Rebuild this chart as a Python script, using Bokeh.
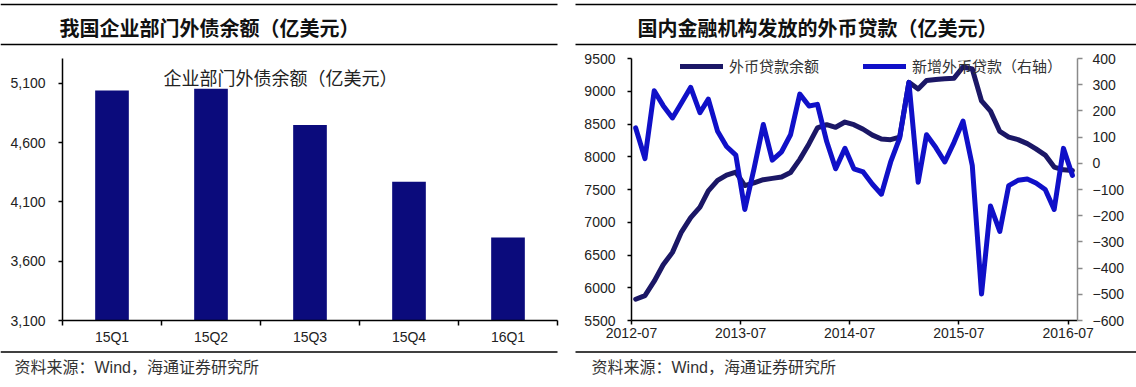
import pandas as pd
from bokeh.plotting import figure
from bokeh.models import (Range1d, LinearAxis, FixedTicker, Label, Legend, LegendItem,
                          BoxAnnotation, NumeralTickFormatter, DatetimeTickFormatter)
from bokeh.layouts import row
from bokeh.embed import file_html
from bokeh.resources import INLINE

# ---------------- data ----------------
left_title = "我国企业部门外债余额（亿美元）"
left_inner_title = "企业部门外债余额（亿美元）"
quarters = ["15Q1", "15Q2", "15Q3", "15Q4", "16Q1"]
external_debt = [5040, 5055, 4750, 4270, 3800]
left_y_ticks = [3100, 3600, 4100, 4600, 5100]

right_title = "国内金融机构发放的外币贷款（亿美元）"
month_start = "2012-07"
month_end = "2016-07"
fx_loan_balance = [5825, 5880, 6100, 6350, 6540, 6850, 7070, 7230, 7480, 7640,
                   7720, 7766, 7560, 7600, 7650, 7670, 7690, 7760, 7960, 8200,
                   8440, 8490, 8450, 8530, 8490, 8420, 8330, 8270, 8260, 8300,
                   9136, 9034, 9163, 9180, 9190, 9200, 9370, 9340, 8852, 8697,
                   8386, 8300, 8262, 8200, 8120, 8025, 7843, 7800, 7790]
fx_loan_new = [135, 18, 277, 220, 173, 230, 290, 193, 245, 122,
               64, 31, -176, -20, 148, 12, 44, 109, 264, 219,
               225, 83, -21, 57, -21, -33, -80, -118, 5, 96,
               309, -72, 109, 60, 5, 80, 161, -8, -499, -163,
               -260, -85, -65, -60, -75, -100, -176, 57, -46]
right_x_tick_labels = ["2012-07", "2013-07", "2014-07", "2015-07", "2016-07"]
balance_ticks = [5500, 6000, 6500, 7000, 7500, 8000, 8500, 9000, 9500]
new_loan_ticks = [-600, -500, -400, -300, -200, -100, 0, 100, 200, 300, 400]
series_names = ["外币贷款余额", "新增外币贷款（右轴）"]
source_note = "资料来源：Wind，海通证券研究所"

# ---------------- styles / geometry (page pixels) ----------------
CJK = "Noto Sans CJK SC"
LAT = "Liberation Sans"
MIX = "Liberation Sans, Noto Sans CJK SC"
BAR_COLOR = "#0b0b7c"
DARK = "#1b1766"
BLUE = "#1010c8"
TXT = "#222222"

LW, RW = 570, 566
HEAD_H, CHART_H, FOOT_H = 46, 304, 35
CHART_TOP = HEAD_H                       # page y where chart figures begin
FOOT_TOP = CHART_TOP + CHART_H
FRAME_TOP, AXIS_TOP, FRAME_BOTTOM = 48, 58, 320
L_LEFT, L_RIGHT = 62, 557
R_LEFT, R_RIGHT = 631, 1077


def extended(lo, hi):
    # value range for the frame when the axis spans AXIS_TOP..FRAME_BOTTOM
    per_px = (hi - lo) / (FRAME_BOTTOM - AXIS_TOP)
    return lo, hi + (AXIS_TOP - FRAME_TOP) * per_px


def band_figure(width, height):
    p = figure(width=width, height=height,
               x_range=Range1d(0, width), y_range=Range1d(height, 0),
               min_border=0, min_border_left=0, min_border_right=0,
               min_border_top=0, min_border_bottom=0,
               x_axis_type=None, y_axis_type=None,
               output_backend="svg", toolbar_location=None)
    p.outline_line_color = None
    p.background_fill_color = "white"
    p.border_fill_color = "white"
    return p


def rule(p, x0, x1, y):
    p.add_layout(BoxAnnotation(left=x0, right=x1, top=y - 0.8, bottom=y + 0.8,
                               fill_color="black", fill_alpha=1.0, line_color=None))


def header(width, x0, x1, title, tx):
    p = band_figure(width, HEAD_H)
    rule(p, x0, x1, 4)
    rule(p, x0, x1, 44)
    p.add_layout(Label(x=tx, y=27, text=title, text_font=CJK, text_font_size="20px",
                       text_font_style="bold", text_color="#111111", text_baseline="middle"))
    return p


def footer(width, x0, x1, tx):
    p = band_figure(width, FOOT_H)
    rule(p, x0, x1, 351.5 - FOOT_TOP)
    p.add_layout(Label(x=tx, y=367 - FOOT_TOP, text=source_note, text_font=MIX,
                       text_font_size="16px", text_color="#333333", text_baseline="middle"))
    return p


def style_axis(ax, color="black"):
    ax.axis_line_color = color
    ax.axis_line_width = 1.5
    ax.major_tick_line_color = color
    ax.major_tick_line_width = 1.5
    ax.minor_tick_line_color = color
    ax.major_label_text_font = LAT
    ax.major_label_text_font_size = "14px"
    ax.major_label_text_color = TXT


def chart_figure(width, frame_l, frame_r, page_x0, y_rng, **kw):
    return figure(width=width, height=CHART_H, y_range=Range1d(*y_rng),
                  min_border=0, min_border_left=frame_l - page_x0,
                  min_border_right=page_x0 + width - frame_r,
                  min_border_top=FRAME_TOP - CHART_TOP,
                  min_border_bottom=FOOT_TOP - FRAME_BOTTOM,
                  output_backend="svg", toolbar_location=None, **kw)


# ---------------- left chart ----------------
L_Y = (left_y_ticks[0], 5310)
L_Y_EXT = extended(*L_Y)
pl = chart_figure(LW, L_LEFT, L_RIGHT, 0, L_Y_EXT, x_range=Range1d(0, len(quarters)))
pl.outline_line_color = None
pl.grid.visible = False

bar_x = [i + 0.5 for i in range(len(quarters))]
pl.vbar(x=bar_x, top=external_debt, bottom=L_Y[0], width=0.34, fill_color=BAR_COLOR, line_color=None)

xa = pl.xaxis[0]
xa.ticker = FixedTicker(ticks=bar_x, minor_ticks=list(range(len(quarters) + 1)))
xa.major_label_overrides = {x: q for x, q in zip(bar_x, quarters)}
style_axis(xa)
xa.major_tick_line_color = None
xa.major_tick_in = 0
xa.major_tick_out = 5
xa.minor_tick_in = 0
xa.minor_tick_out = 5
xa.minor_tick_line_width = 1.5
xa.major_label_standoff = 3

ya = pl.yaxis[0]
ya.ticker = FixedTicker(ticks=left_y_ticks)
ya.formatter = NumeralTickFormatter(format="0,0")
ya.bounds = L_Y
style_axis(ya)
ya.major_tick_in = 0
ya.major_tick_out = 4
ya.major_label_standoff = 13

l_per_px = (L_Y_EXT[1] - L_Y_EXT[0]) / (FRAME_BOTTOM - FRAME_TOP)
pl.add_layout(Label(x=(163 - L_LEFT) * len(quarters) / (L_RIGHT - L_LEFT),
                    y=L_Y_EXT[0] + (FRAME_BOTTOM - 76) * l_per_px,
                    text=left_inner_title, text_font=CJK,
                    text_font_size="18px", text_color=TXT, text_baseline="middle"))

# ---------------- right chart ----------------
dates = pd.date_range(month_start, month_end, freq="MS") + pd.Timedelta(days=14)
tick_dates = pd.to_datetime(right_x_tick_labels)

R_Y = (balance_ticks[0], balance_ticks[-1])
R_Y2 = (new_loan_ticks[0], new_loan_ticks[-1])
pr = chart_figure(RW, R_LEFT, R_RIGHT, LW, extended(*R_Y), x_axis_type="datetime",
                  x_range=Range1d(pd.Timestamp("2012-07-01"), pd.Timestamp("2016-08-01")))
pr.outline_line_color = None
pr.grid.visible = False
pr.extra_y_ranges = {"new": Range1d(*extended(*R_Y2))}

r_bal = pr.line(dates, fx_loan_balance, line_color=DARK, line_width=5,
                line_join="round", line_cap="round")
r_new = pr.line(dates, fx_loan_new, y_range_name="new", line_color=BLUE, line_width=5,
                line_join="round", line_cap="round")

rx = pr.xaxis[0]
rx.ticker = FixedTicker(ticks=[t.value // 10**6 for t in tick_dates])
rx.formatter = DatetimeTickFormatter(years="%Y-%m", months="%Y-%m", days="%Y-%m",
                                     hours="%Y-%m", minutes="%Y-%m", seconds="%Y-%m",
                                     milliseconds="%Y-%m", microseconds="%Y-%m")
style_axis(rx)
rx.major_tick_in = 0
rx.major_tick_out = 4
rx.major_label_standoff = 3

ry = pr.yaxis[0]
ry.ticker = FixedTicker(ticks=balance_ticks)
ry.bounds = R_Y
style_axis(ry)
ry.major_tick_in = 0
ry.major_tick_out = 4
ry.major_label_standoff = 12

ry2 = LinearAxis(y_range_name="new", ticker=FixedTicker(ticks=new_loan_ticks), bounds=R_Y2)
style_axis(ry2, color="#8a8a8a")
ry2.major_tick_in = 0
ry2.major_tick_out = 5
ry2.major_label_standoff = 10
pr.add_layout(ry2, "right")

legend = Legend(items=[LegendItem(label=series_names[0], renderers=[r_bal]),
                       LegendItem(label=series_names[1], renderers=[r_new])],
                orientation="horizontal", location=(49, FRAME_BOTTOM - 76),
                glyph_width=43, glyph_height=18, label_height=18, label_standoff=6, spacing=44,
                padding=0, margin=0, border_line_color=None, background_fill_alpha=0,
                label_text_font=CJK, label_text_font_size="15px", label_text_color="#333333")
pr.add_layout(legend)

# ---------------- page: three stacked rows ----------------
top_row = row(header(LW, 0, 557, left_title, 59),
              header(RW, 575 - LW, RW, right_title, 637 - LW), spacing=0)
chart_row = row(pl, pr, spacing=0)
bottom_row = row(footer(LW, 0, 557, 14), footer(RW, 575 - LW, RW, 591 - LW), spacing=0)

open("out.html", "w").write(file_html([top_row, chart_row, bottom_row], INLINE))
